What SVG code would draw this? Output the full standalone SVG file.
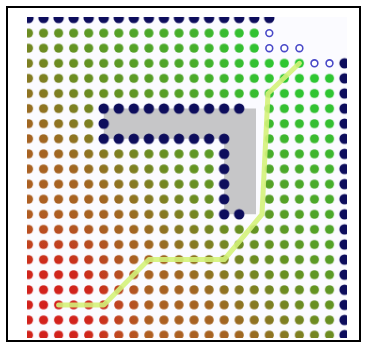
<svg xmlns="http://www.w3.org/2000/svg" width="366" height="345" viewBox="0 0 366 345">
<style>
.navy{fill:url(#navyDots)}
.hollow{fill:#ffffff;stroke:#4848c8;stroke-width:1.6}
.frame{fill:none;stroke:#000;stroke-width:2}
</style>
<defs>
<pattern id="whiteDots" patternUnits="userSpaceOnUse" x="20.975" y="10.45" width="15.05" height="15.1">
<circle cx="7.525" cy="7.55" r="4.6" fill="#fff"/>
</pattern>
<pattern id="navyDots" patternUnits="userSpaceOnUse" x="20.975" y="10.45" width="15.05" height="15.1">
<circle cx="7.525" cy="7.55" r="5.2" fill="#0c0c5c"/>
</pattern>
<linearGradient id="base" gradientUnits="userSpaceOnUse" x1="58.6" y1="304.9" x2="299.4" y2="63.3">
<stop offset="0" stop-color="#b85a20"/>
<stop offset="0.3" stop-color="#a46422"/>
<stop offset="0.5" stop-color="#6c8c22"/>
<stop offset="0.75" stop-color="#4ca82a"/>
<stop offset="1" stop-color="#34c032"/>
</linearGradient>
<radialGradient id="redHot" gradientUnits="userSpaceOnUse" cx="50" cy="310" r="100">
<stop offset="0" stop-color="#d41e1e" stop-opacity="1"/>
<stop offset="0.45" stop-color="#d41e1e" stop-opacity="0.85"/>
<stop offset="0.75" stop-color="#d41e1e" stop-opacity="0.3"/>
<stop offset="1" stop-color="#d41e1e" stop-opacity="0"/>
</radialGradient>
<radialGradient id="greenHot" gradientUnits="userSpaceOnUse" cx="299.4" cy="63.3" r="110">
<stop offset="0" stop-color="#2cc832" stop-opacity="1"/>
<stop offset="0.5" stop-color="#2cc832" stop-opacity="0.5"/>
<stop offset="1" stop-color="#2cc832" stop-opacity="0"/>
</radialGradient>
<mask id="heatMask" maskUnits="userSpaceOnUse" x="0" y="0" width="366" height="345">
<rect x="27" y="17" width="320" height="321" fill="url(#whiteDots)"/>
<rect x="0" y="0" width="366" height="25.55" fill="#000"/>
<rect x="337.025" y="0" width="30" height="345" fill="#000"/>
<rect x="261.775" y="25.55" width="105" height="30.2" fill="#000"/>
<rect x="306.925" y="55.75" width="60" height="15.1" fill="#000"/>
<rect x="96.225" y="101.05" width="165.55" height="45.3" fill="#000"/>
<rect x="216.625" y="146.35" width="45.15" height="75.5" fill="#000"/>
</mask>
<clipPath id="pic"><rect x="27" y="17" width="320" height="321"/></clipPath>
<filter id="soft" x="-5%" y="-5%" width="110%" height="110%"><feGaussianBlur stdDeviation="0.5"/></filter>
</defs>
<rect width="366" height="345" fill="#fff"/>
<g id="picture" clip-path="url(#pic)" filter="url(#soft)">
<rect x="27" y="17" width="320" height="321" fill="#fbfbff"/>
<g id="heat" mask="url(#heatMask)">
<rect x="27" y="17" width="320" height="321" fill="url(#base)"/>
<rect x="27" y="17" width="320" height="321" fill="url(#redHot)"/>
<rect x="27" y="17" width="320" height="321" fill="url(#greenHot)"/>
</g>
<g id="wall">
<polygon points="103.75,108.6 256,108.6 256,214.3 224.15,214.3 224.15,138.8 103.75,138.8" fill="#c6c6c8"/>
<rect class="navy" x="96.225" y="101.05" width="150.5" height="15.1"/>
<rect class="navy" x="96.225" y="116.15" width="15.05" height="15.1"/>
<rect class="navy" x="96.225" y="131.25" width="135.45" height="15.1"/>
<rect class="navy" x="216.625" y="146.35" width="15.05" height="75.5"/>
<rect class="navy" x="231.675" y="206.75" width="15.05" height="15.1"/>
</g>
<g id="border">
<rect class="navy" x="20.975" y="10.45" width="255.85" height="15.1"/>
<rect class="navy" x="337.025" y="55.75" width="15.05" height="286.9"/>
</g>
<g id="open">
<circle class="hollow" cx="269.3" cy="33.1" r="3.4"/>
<circle class="hollow" cx="269.3" cy="48.2" r="3.4"/>
<circle class="hollow" cx="284.35" cy="48.2" r="3.4"/>
<circle class="hollow" cx="299.4" cy="48.2" r="3.4"/>
<circle class="hollow" cx="314.45" cy="63.3" r="3.4"/>
<circle class="hollow" cx="329.5" cy="63.3" r="3.4"/>
</g>
<g id="connectors">
<polyline points="58.6,304.9 103.75,304.9 148.9,259.6 224.15,259.6 262,214.3 268,93.5 299.4,63.3" fill="none" stroke="#d4f27a" stroke-width="5" stroke-linecap="round" stroke-linejoin="round" opacity="0.9"/>
</g>
</g>
<rect class="frame" x="7" y="7" width="353" height="334"/>
</svg>
